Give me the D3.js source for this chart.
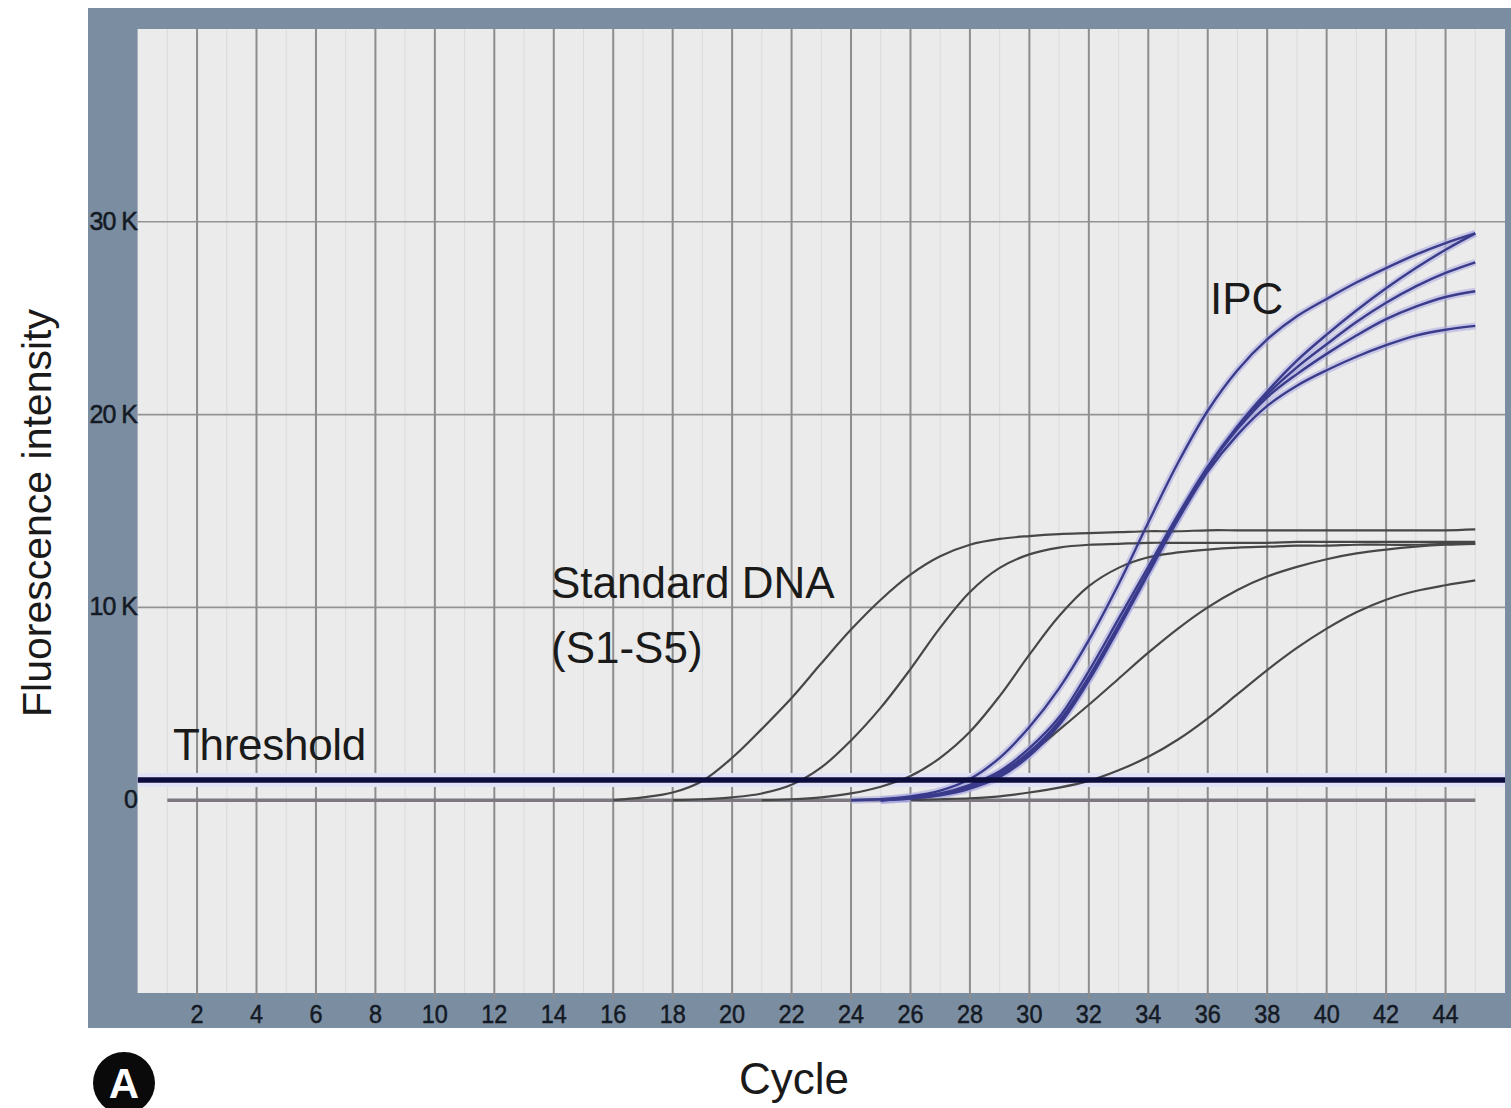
<!DOCTYPE html>
<html>
<head>
<meta charset="utf-8">
<script src="https://cdn.jsdelivr.net/npm/d3@7"></script>
<style>
  html, body { margin: 0; padding: 0; background: #ffffff; }
  svg { display: block; }
  text { font-family: "Liberation Sans", Arial, sans-serif; }
</style>
</head>
<body>
<svg id="chart" width="1511" height="1108"></svg>
<script>
// ---------------- DATA ----------------
const xTickLabels = [2,4,6,8,10,12,14,16,18,20,22,24,26,28,30,32,34,36,38,40,42,44];
const yTickValues = [0, 10000, 20000, 30000];
const yTickLabels = ["0", "10 K", "20 K", "30 K"];
const thresholdValue = 1050;

// no-template / baseline trace
const ntcCycles = [1, 45];
const ntcValues = [0, 0];

// Standard DNA S1–S5 (start cycle, then one value per cycle)
const s1Start = 16;
const s1Values = [0,150,400,1000,2200,3700,5300,7100,8850,10400,11700,12650,13250,13550,13700,13800,13850,13900,13950,13950,14000,14000,14000,14000,14000,14000,14000,14000,14000,14050];
const s2Start = 18;
const s2Values = [0,50,150,350,800,1700,3100,4800,6800,8950,10800,12050,12750,13100,13250,13300,13350,13350,13350,13350,13350,13400,13400,13400,13400,13400,13400,13400];
const s3Start = 21;
const s3Values = [0,50,150,350,700,1250,2200,3550,5400,7550,9550,11100,12050,12600,12850,13000,13100,13150,13200,13200,13250,13250,13250,13300,13300];
const s4Start = 24;
const s4Values = [0,50,120,330,700,1400,2400,3650,4950,6300,7650,8900,10000,10900,11600,12100,12500,12800,13000,13150,13250,13300];
const s5Start = 26;
const s5Values = [0,50,100,200,400,650,1000,1550,2250,3150,4250,5500,6750,7900,8900,9750,10400,10850,11150,11400];

// IPC (internal positive control) traces
const ipc1Start = 24;
const ipc1Values = [0,50,200,500,1100,2200,3800,5800,8300,11200,14400,17500,20200,22300,23900,25100,26000,26850,27600,28300,28900,29400];
const ipc2Start = 25;
const ipc2Values = [0,150,350,800,1500,2700,4300,6700,9400,12100,14800,17300,19400,21200,22800,24150,25400,26550,27600,28550,29400];
const ipc3Start = 25;
const ipc3Values = [0,120,300,700,1400,2500,4100,6400,9100,11850,14600,17200,19300,21050,22450,23650,24800,25800,26650,27350,27900];
const ipc4Start = 25;
const ipc4Values = [0,100,280,650,1300,2400,4000,6300,9000,11850,14650,17250,19250,20900,22100,23150,24100,24950,25600,26100,26400];
const ipc5Start = 25;
const ipc5Values = [0,80,250,600,1200,2300,3900,6200,8900,11750,14550,17050,18950,20450,21500,22300,23000,23600,24100,24400,24600];

// ---------------- LAYOUT ----------------
const svg = d3.select("#chart");
const frame = {x0: 88, y0: 8, x1: 1511, y1: 1028};
const plot = {x0: 137.6, y0: 29, x1: 1505, y1: 993};

const x = d3.scaleLinear().domain([0, 46]).range([plot.x0, plot.x1]);
const y = d3.scaleLinear().domain([-10000, 40000]).range([plot.y1, plot.y0]);

// frame
svg.append("rect").attr("x", frame.x0).attr("y", frame.y0)
  .attr("width", frame.x1 - frame.x0).attr("height", frame.y1 - frame.y0)
  .attr("fill", "#7b8da1");
// plot background
svg.append("rect").attr("x", plot.x0).attr("y", plot.y0)
  .attr("width", plot.x1 - plot.x0).attr("height", plot.y1 - plot.y0)
  .attr("fill", "#ebebeb");

const clip = svg.append("defs").append("clipPath").attr("id", "plotclip");
clip.append("rect").attr("x", plot.x0).attr("y", plot.y0)
  .attr("width", plot.x1 - plot.x0).attr("height", plot.y1 - plot.y0);

// minor (odd-cycle) faint gridlines
const minorTicks = xTickLabels.map(d => d - 1).concat([45]);
svg.append("g").selectAll("line").data(minorTicks).join("line")
  .attr("x1", d => x(d)).attr("x2", d => x(d))
  .attr("y1", plot.y0).attr("y2", plot.y1)
  .attr("stroke", "#dadada").attr("stroke-width", 1);

// horizontal gridlines
svg.append("g").selectAll("line").data([10000, 20000, 30000]).join("line")
  .attr("x1", plot.x0).attr("x2", plot.x1)
  .attr("y1", d => y(d)).attr("y2", d => y(d))
  .attr("stroke", "#939393").attr("stroke-width", 1.6);

// vertical gridlines (extend slightly into bottom frame as ticks)
svg.append("g").selectAll("line").data(xTickLabels).join("line")
  .attr("x1", d => x(d)).attr("x2", d => x(d))
  .attr("y1", plot.y0).attr("y2", plot.y1 + 6)
  .attr("stroke", "#8d8d8d").attr("stroke-width", 2);

// x tick labels
svg.append("g").selectAll("text").data(xTickLabels).join("text")
  .attr("x", d => x(d)).attr("y", 1023)
  .attr("text-anchor", "middle")
  .attr("font-size", 26).attr("fill", "#141a24")
  .attr("stroke", "#141a24").attr("stroke-width", 0.5)
  .attr("transform", d => `translate(${x(d)},0) scale(0.9,1) translate(${-x(d)},0)`)
  .text(d => d);

// y tick labels
svg.append("g").selectAll("text").data(yTickValues).join("text")
  .attr("x", 137).attr("y", d => y(d) + 8)
  .attr("text-anchor", "end")
  .attr("font-size", 25).attr("fill", "#141a24")
  .attr("stroke", "#141a24").attr("stroke-width", 0.5)
  .attr("letter-spacing", -1)
  .text((d, i) => yTickLabels[i]);

// ---------------- CURVES ----------------
const g = svg.append("g").attr("clip-path", "url(#plotclip)");
const line = d3.line().x(d => x(d[0])).y(d => y(d[1])).curve(d3.curveCatmullRom.alpha(0.5));
const toPts = (start, vals) => vals.map((v, i) => [start + i, v]);

// threshold halo
g.append("line").attr("x1", plot.x0).attr("x2", plot.x1)
  .attr("y1", y(thresholdValue)).attr("y2", y(thresholdValue))
  .attr("stroke", "#e2e2f6").attr("stroke-width", 14);

// baseline (NTC)
g.append("path").datum(ntcCycles.map((c, i) => [c, ntcValues[i]]))
  .attr("d", line).attr("fill", "none")
  .attr("stroke", "#7d7880").attr("stroke-width", 3.5);

const standards = [
  [s1Start, s1Values], [s2Start, s2Values], [s3Start, s3Values],
  [s4Start, s4Values], [s5Start, s5Values]
];
const ipcs = [
  [ipc1Start, ipc1Values], [ipc2Start, ipc2Values], [ipc3Start, ipc3Values],
  [ipc4Start, ipc4Values], [ipc5Start, ipc5Values]
];

// IPC halos
g.append("g").selectAll("path").data(ipcs).join("path")
  .attr("d", d => line(toPts(d[0], d[1]))).attr("fill", "none")
  .attr("stroke", "#a9a9e0").attr("stroke-opacity", 0.55).attr("stroke-width", 7);

// standards
g.append("g").selectAll("path").data(standards).join("path")
  .attr("d", d => line(toPts(d[0], d[1]))).attr("fill", "none")
  .attr("stroke", "#474747").attr("stroke-width", 2.2);

// IPC lines
g.append("g").selectAll("path").data(ipcs).join("path")
  .attr("d", d => line(toPts(d[0], d[1]))).attr("fill", "none")
  .attr("stroke", "#3b3b8c").attr("stroke-width", 2.4);

// threshold line
g.append("line").attr("x1", plot.x0).attr("x2", plot.x1)
  .attr("y1", y(thresholdValue)).attr("y2", y(thresholdValue))
  .attr("stroke", "#0d0d3d").attr("stroke-width", 5.5);

// ---------------- ANNOTATIONS ----------------
const ann = svg.append("g").attr("fill", "#1a1a1a").attr("font-size", 44);
ann.append("text").attr("x", 173).attr("y", 760).attr("letter-spacing", -0.3).text("Threshold");
ann.append("text").attr("x", 551).attr("y", 598).text("Standard DNA");
ann.append("text").attr("x", 551).attr("y", 663).text("(S1-S5)");
ann.append("text").attr("x", 1210).attr("y", 314).text("IPC");

// axis titles
svg.append("text").attr("x", 794).attr("y", 1094)
  .attr("text-anchor", "middle").attr("font-size", 44).attr("fill", "#1a1a1a")
  .text("Cycle");
svg.append("text")
  .attr("transform", "translate(51,513) rotate(-90)")
  .attr("text-anchor", "middle").attr("font-size", 41).attr("fill", "#1a1a1a")
  .text("Fluorescence intensity");

// panel letter
svg.append("circle").attr("cx", 124).attr("cy", 1083).attr("r", 31).attr("fill", "#0a0a0a");
svg.append("text").attr("x", 124).attr("y", 1098)
  .attr("text-anchor", "middle").attr("font-size", 42).attr("font-weight", "bold")
  .attr("fill", "#ffffff").text("A");
</script>
</body>
</html>
